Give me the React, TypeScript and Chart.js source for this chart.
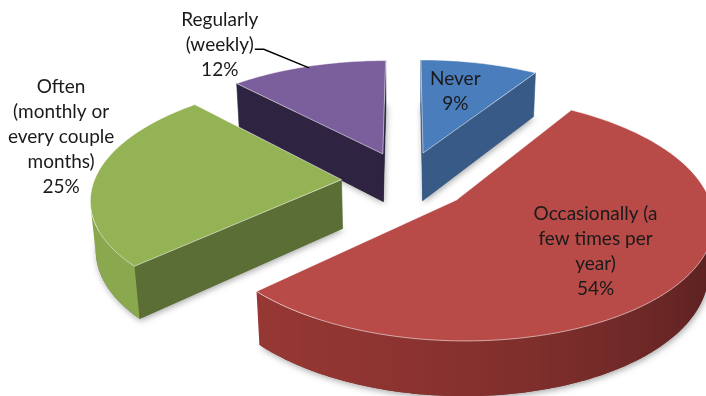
import React, { useEffect, useRef } from "react";
import { Chart, registerables } from "chart.js";

Chart.register(...registerables);

// ---- data ----
const CATEGORIES = [
  "Never",
  "Occasionally (a few times per year)",
  "Often (monthly or every couple months)",
  "Regularly (weekly)",
];
const LABEL_LINES = [
  ["Never"],
  ["Occasionally (a", "few times per", "year)"],
  ["Often", "(monthly or", "every couple", "months)"],
  ["Regularly", "(weekly)"],
];
const VALUES = [9, 54, 25, 12];

// ---- styles ----
const TOP_COLORS = ["#4a7dbb", "#b84b48", "#94b355", "#7b5e9c"];
const SIDE_COLORS = ["#375a86", "#7a2c2a", "#5a6e35", "#2e2340"];
const WALL_LIGHT = ["#44689a", "#963733", "#8aa84e", "#6a5088"];
const WALL_DARK = ["#263f5e", "#4a1b1b", "#4a5c2a", "#2a2038"];

const VIEW = {
  D: 1400,
  F: 1505,
  tilt: (27.5 * Math.PI) / 180,
  R: 230,
  depth: 52,
  shiftX: 52.7,
  shiftY: -17.4,
};
const PIE_RADIUS = 150;
const EXPLODE = 39;

const LABEL_FONT = "19px Lato";
const LINE_H = 25;
const LABEL_POS = [
  { f: 0.63, dx: -5, dy: -2, leader: false },
  { f: 0.652, dx: 0, dy: -2, leader: false },
  { f: 1.0, dx: -35, dy: -39, leader: false },
  { f: 1.0, dx: -88, dy: -21, leader: true },
];

function hexToRgb(h: string) {
  const n = parseInt(h.slice(1), 16);
  return [(n >> 16) & 255, (n >> 8) & 255, n & 255];
}
function mix(a: string, b: string, t: number) {
  const A = hexToRgb(a);
  const B = hexToRgb(b);
  const c = A.map((x, i) => Math.round(x + (B[i] - x) * t));
  return `rgb(${c[0]},${c[1]},${c[2]})`;
}
function area(pts: number[][]) {
  let s = 0;
  for (let i = 0; i < pts.length; i++) {
    const p = pts[i];
    const q = pts[(i + 1) % pts.length];
    s += p[0] * q[1] - q[0] * p[1];
  }
  return s;
}
function poly(ctx: CanvasRenderingContext2D, pts: number[][]) {
  ctx.beginPath();
  ctx.moveTo(pts[0][0], pts[0][1]);
  for (let i = 1; i < pts.length; i++) ctx.lineTo(pts[i][0], pts[i][1]);
  ctx.closePath();
}

const pie3d = {
  id: "pie3d",
  beforeDatasetsDraw(chart: any) {
    const meta = chart.getDatasetMeta(0);
    const ctx: CanvasRenderingContext2D = chart.ctx;
    const arcs = meta.data;
    if (!arcs.length) return false;
    const cx = arcs[0].x + VIEW.shiftX;
    const cy = arcs[0].y + VIEW.shiftY;
    const sinP = Math.sin(VIEW.tilt);
    const cosP = Math.cos(VIEW.tilt);
    const proj = (u: number, v: number, h: number) => {
      const z = VIEW.D + v * cosP - h * sinP;
      return [cx + (VIEW.F * u) / z, cy - (VIEW.F * (v * sinP + h * cosP)) / z];
    };
    const slices = arcs.map((arc: any, i: number) => {
      const p = arc.getProps(["startAngle", "endAngle", "outerRadius"], true);
      const q = VIEW.R / p.outerRadius;
      const off = (arc.options.offset || 0) * q;
      const mid = (p.startAngle + p.endAngle) / 2;
      return {
        i,
        a0: p.startAngle,
        a1: p.endAngle,
        mid,
        r: p.outerRadius * q,
        au: off * Math.cos(mid),
        av: -off * Math.sin(mid),
      };
    });
    const pt = (s: any, a: number, h: number, rr?: number) => {
      const r = rr === undefined ? s.r : rr;
      return proj(s.au + r * Math.cos(a), s.av - r * Math.sin(a), h);
    };
    chart.$pie3d = { slices, pt };

    const T = -VIEW.depth;
    const order = [...slices].sort((a: any, b: any) => b.av - a.av);
    ctx.save();
    for (const s of order) {
      const i = s.i;
      const n = Math.max(2, Math.ceil((s.a1 - s.a0) / (Math.PI / 180)));
      const angs: number[] = [];
      for (let k = 0; k <= n; k++) angs.push(s.a0 + ((s.a1 - s.a0) * k) / n);
      const apexT = pt(s, 0, 0, 0);
      const apexB = pt(s, 0, T, 0);
      // bottom with soft shadow
      ctx.save();
      ctx.shadowColor = "rgba(0,0,0,0.35)";
      ctx.shadowBlur = 6;
      ctx.shadowOffsetX = 1;
      ctx.shadowOffsetY = 2;
      poly(ctx, [apexB, ...angs.map((a) => pt(s, a, T))]);
      ctx.fillStyle = SIDE_COLORS[i];
      ctx.fill();
      ctx.restore();
      // radial walls
      const o0T = pt(s, s.a0, 0), o0B = pt(s, s.a0, T);
      const o1T = pt(s, s.a1, 0), o1B = pt(s, s.a1, T);
      const w0 = [o0T, apexT, apexB, o0B];
      const w1 = [apexT, o1T, o1B, apexB];
      for (const w of [w0, w1]) {
        if (area(w) > 0) {
          poly(ctx, w);
          ctx.fillStyle = SIDE_COLORS[i];
          ctx.fill();
          ctx.strokeStyle = SIDE_COLORS[i];
          ctx.lineWidth = 0.6;
          ctx.stroke();
        }
      }
      // outer wall: contiguous visible runs, gradient-shaded
      const vis: boolean[] = [];
      for (let k = 0; k < n; k++) {
        const q = [pt(s, angs[k + 1], 0), pt(s, angs[k], 0), pt(s, angs[k], T), pt(s, angs[k + 1], T)];
        vis.push(area(q) > 0);
      }
      let k = 0;
      while (k < n) {
        if (!vis[k]) {
          k++;
          continue;
        }
        let e = k;
        while (e < n && vis[e]) e++;
        const run = angs.slice(k, e + 1);
        const top = run.map((a) => pt(s, a, 0));
        const bot = run.map((a) => pt(s, a, T)).reverse();
        const xs = top.map((p) => p[0]);
        const x0 = Math.min(...xs), x1 = Math.max(...xs);
        const grad = ctx.createLinearGradient(x0, 0, x1 + 0.01, 0);
        const stops = run.map((a, j) => {
          const theta = a + Math.PI / 2;
          const f = (1 + Math.cos(theta - (235 * Math.PI) / 180)) / 2;
          return { o: (top[j][0] - x0) / (x1 - x0 + 0.01), c: mix(WALL_DARK[i], WALL_LIGHT[i], f) };
        });
        stops.sort((a, b) => a.o - b.o);
        stops.forEach((st) => grad.addColorStop(Math.min(1, Math.max(0, st.o)), st.c));
        poly(ctx, [...top, ...bot]);
        ctx.fillStyle = grad;
        ctx.fill();
        k = e;
      }
      // top face
      poly(ctx, [apexT, ...angs.map((a) => pt(s, a, 0))]);
      ctx.fillStyle = TOP_COLORS[i];
      ctx.fill();
      ctx.strokeStyle = "rgba(255,255,255,0.55)";
      ctx.lineWidth = 1;
      ctx.stroke();
    }
    ctx.restore();
    return false;
  },
  afterDraw(chart: any) {
    const g = chart.$pie3d;
    if (!g) return;
    const ctx: CanvasRenderingContext2D = chart.ctx;
    const total = VALUES.reduce((a, b) => a + b, 0);
    ctx.save();
    ctx.font = LABEL_FONT;
    ctx.textAlign = "center";
    ctx.textBaseline = "middle";
    ctx.fillStyle = "#1a1a1a";
    for (const s of g.slices) {
      const lp = LABEL_POS[s.i];
      const a = g.pt(s, s.mid, 0, s.r * lp.f);
      const lines = [...LABEL_LINES[s.i], Math.round((VALUES[s.i] / total) * 100) + "%"];
      const x = a[0] + lp.dx;
      const yc = a[1] + lp.dy;
      const y0 = yc - ((lines.length - 1) * LINE_H) / 2;
      lines.forEach((t, k) => ctx.fillText(t, x, y0 + k * LINE_H));
      if (lp.leader) {
        const w = ctx.measureText(lines[1]).width;
        const ly = y0 + LINE_H + 4;
        const xr = x + w / 2 + 1;
        const end = g.pt(s, s.mid, 0, s.r * 0.98);
        ctx.beginPath();
        ctx.moveTo(xr, ly);
        ctx.lineTo(xr + 9, ly);
        ctx.lineTo(end[0], end[1]);
        ctx.strokeStyle = "#000";
        ctx.lineWidth = 1.5;
        ctx.stroke();
      }
    }
    ctx.restore();
  },
};

export default function App() {
  const ref = useRef<HTMLCanvasElement>(null);
  useEffect(() => {
    if (!ref.current) return;
    const chart = new Chart(ref.current, {
      type: "pie",
      data: {
        labels: CATEGORIES,
        datasets: [
          {
            data: VALUES,
            backgroundColor: TOP_COLORS,
            borderWidth: 0,
            offset: EXPLODE,
          },
        ],
      },
      options: {
        animation: false,
        responsive: false,
        radius: PIE_RADIUS,
        layout: { padding: 0 },
        plugins: { legend: { display: false }, tooltip: { enabled: false } },
      } as any,
      plugins: [pie3d as any],
    });
    return () => chart.destroy();
  }, []);
  return (
    <div style={{ position: "absolute", left: 0, top: 0, width: 706, height: 396, background: "#fff" }}>
      <canvas ref={ref} width={706} height={396} style={{ display: "block" }} />
    </div>
  );
}
